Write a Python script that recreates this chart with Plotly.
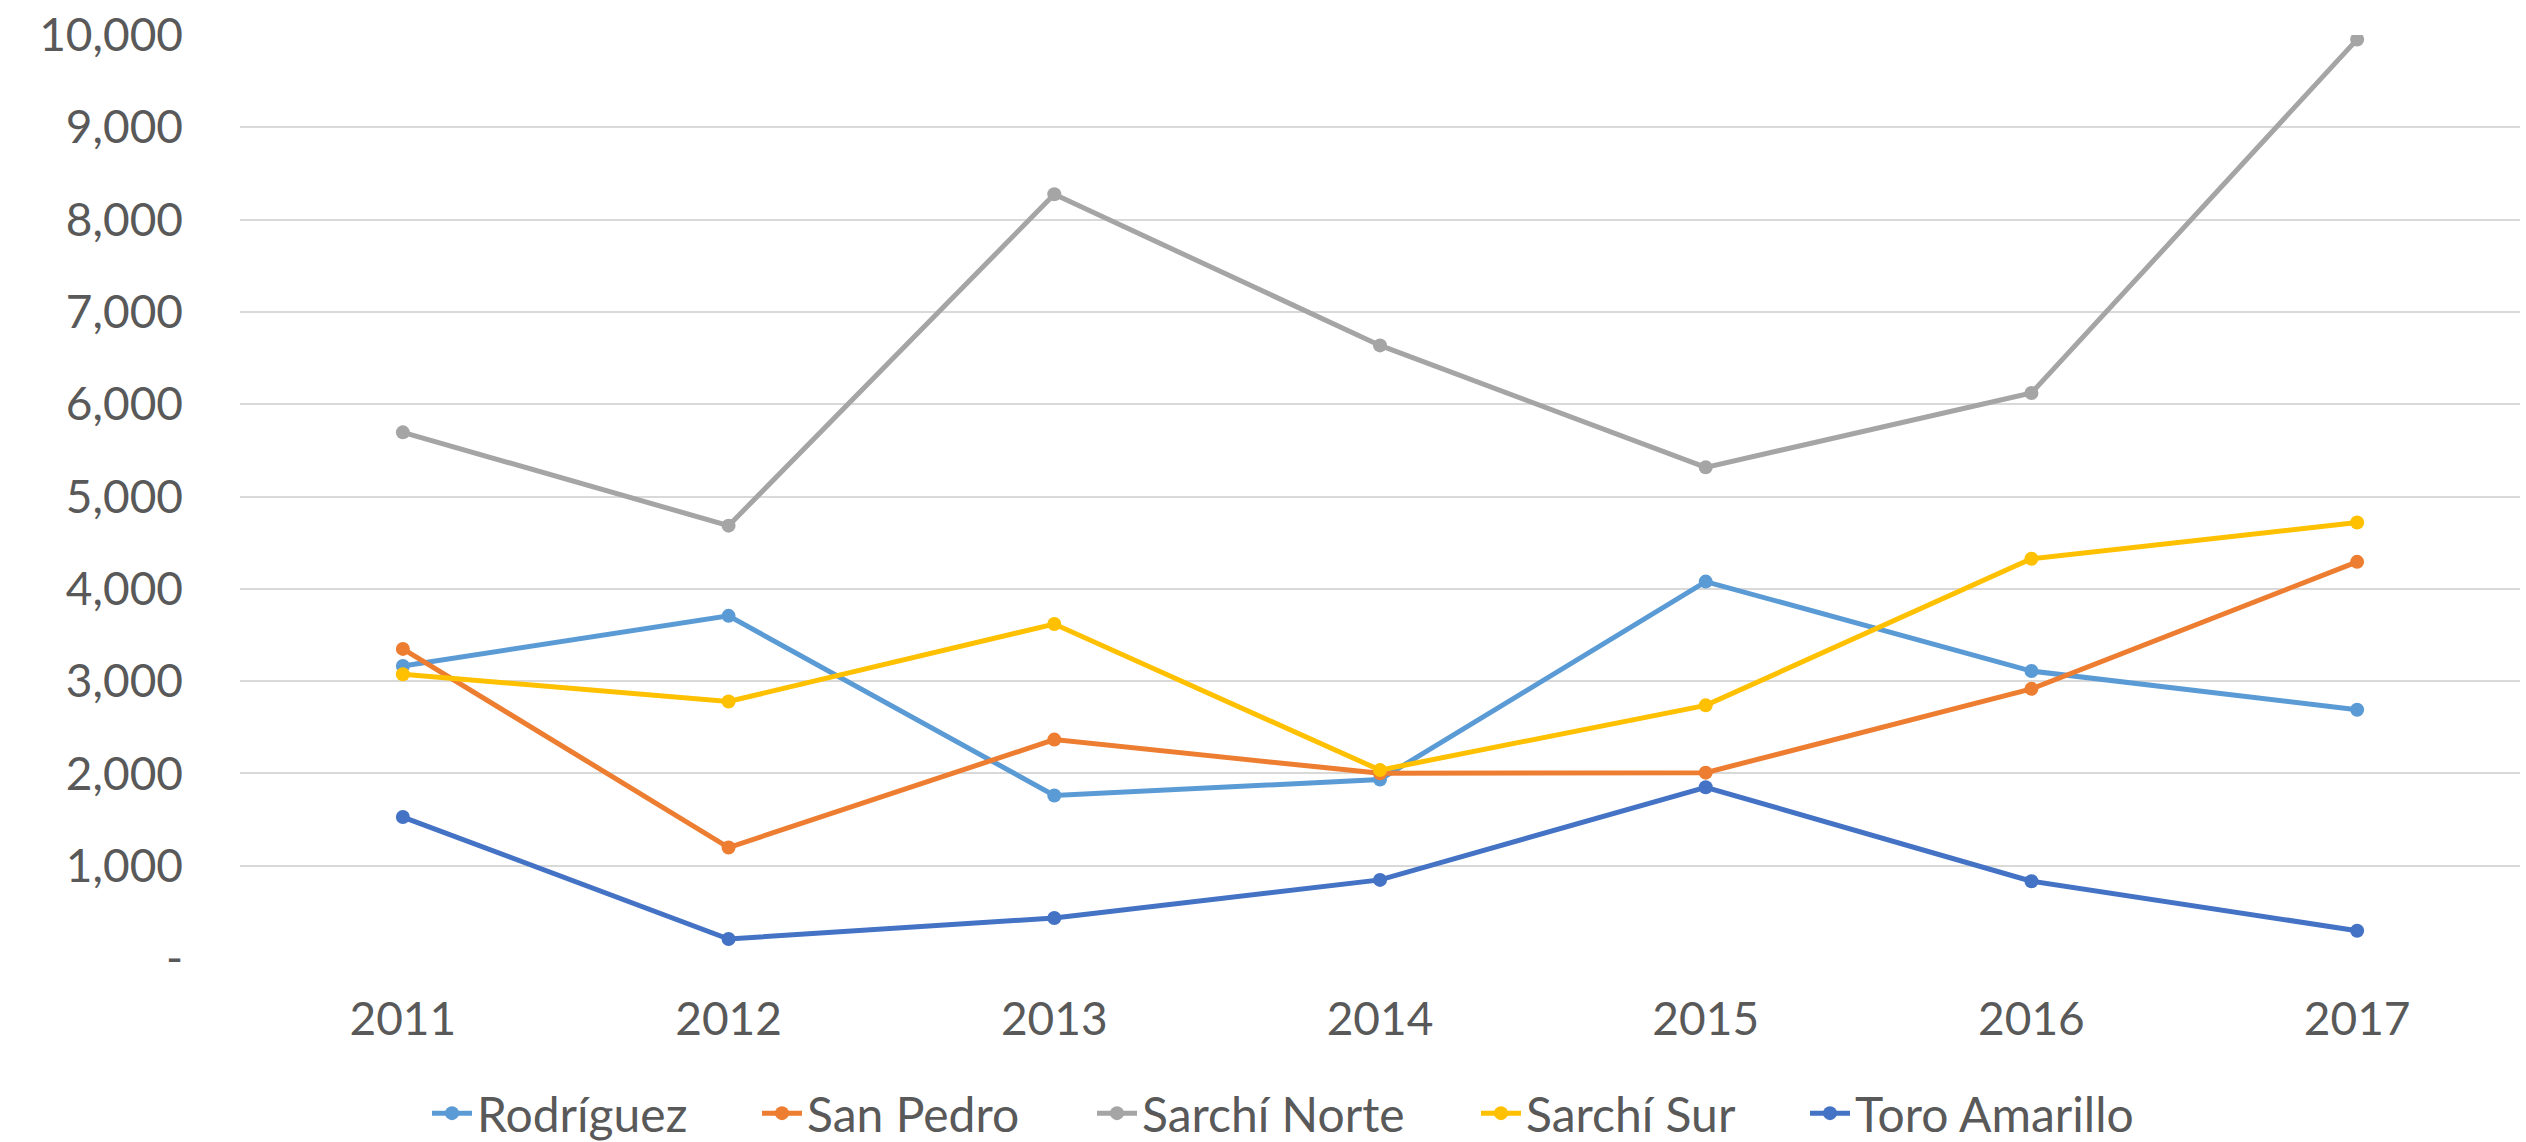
import plotly.graph_objects as go

# Years on the category axis
years = ["2011", "2012", "2013", "2014", "2015", "2016", "2017"]

# Series values per district
rodriguez = [3164, 3707, 1761, 1933, 4078, 3109, 2689]
san_pedro = [3349, 1197, 2366, 2001, 2008, 2916, 4292]
sarchi_norte = [5695, 4684, 8274, 6637, 5316, 6121, 9952]
sarchi_sur = [3074, 2779, 3618, 2036, 2737, 4326, 4718]
toro_amarillo = [1527, 206, 433, 846, 1850, 832, 296]

series_names = ["Rodríguez", "San Pedro", "Sarchí Norte", "Sarchí Sur", "Toro Amarillo"]
series_values = [rodriguez, san_pedro, sarchi_norte, sarchi_sur, toro_amarillo]
series_colors = ["#5B9BD5", "#ED7D31", "#A5A5A5", "#FFC000", "#4472C4"]

# Y axis ticks (zero shown as a dash, accounting style)
y_tickvals = [0, 1000, 2000, 3000, 4000, 5000, 6000, 7000, 8000, 9000, 10000]
y_ticktext = ["-", "1,000", "2,000", "3,000", "4,000", "5,000",
              "6,000", "7,000", "8,000", "9,000", "10,000"]

FONT = "Lato"
TEXT_COLOR = "#595959"
W, H = 2526, 1142

# Left edge (px) of each legend entry along the bottom row
legend_left_px = [427, 757, 1092, 1476, 1805]
legend_ids = ["legend", "legend2", "legend3", "legend4", "legend5"]

fig = go.Figure()
for name, vals, color, lid in zip(series_names, series_values, series_colors, legend_ids):
    fig.add_trace(go.Scatter(
        x=list(range(len(years))),
        y=vals,
        name=name,
        mode="lines+markers",
        line=dict(color=color, width=5),
        marker=dict(color=color, size=14),
        legend=lid,
    ))

legend_layouts = {}
for lid, left in zip(legend_ids, legend_left_px):
    legend_layouts[lid] = dict(
        orientation="h",
        xref="container",
        yref="container",
        x=left / W,
        xanchor="left",
        y=0.025,
        yanchor="middle",
        font=dict(family=FONT, size=48, color=TEXT_COLOR),
        itemwidth=40,
        bgcolor="rgba(0,0,0,0)",
    )

fig.update_layout(
    width=W,
    height=H,
    margin=dict(l=240, r=6, t=30, b=183.5),
    paper_bgcolor="white",
    plot_bgcolor="white",
    font=dict(family=FONT, size=46, color=TEXT_COLOR),
    showlegend=True,
    xaxis=dict(
        range=[-0.5, 6.5],
        tickmode="array",
        tickvals=list(range(len(years))),
        ticktext=years,
        showgrid=False,
        zeroline=False,
        showline=False,
        ticks="",
        ticklabelstandoff=30,
        tickfont=dict(family=FONT, size=46, color=TEXT_COLOR),
    ),
    yaxis=dict(
        range=[0, 10000],
        tickmode="array",
        tickvals=y_tickvals,
        ticktext=y_ticktext,
        showgrid=True,
        gridcolor="#D9D9D9",
        gridwidth=2,
        zeroline=False,
        showline=False,
        ticks="",
        ticklabelstandoff=56,
        tickfont=dict(family=FONT, size=46, color=TEXT_COLOR),
    ),
    **legend_layouts,
)

fig.write_html("out.html")
